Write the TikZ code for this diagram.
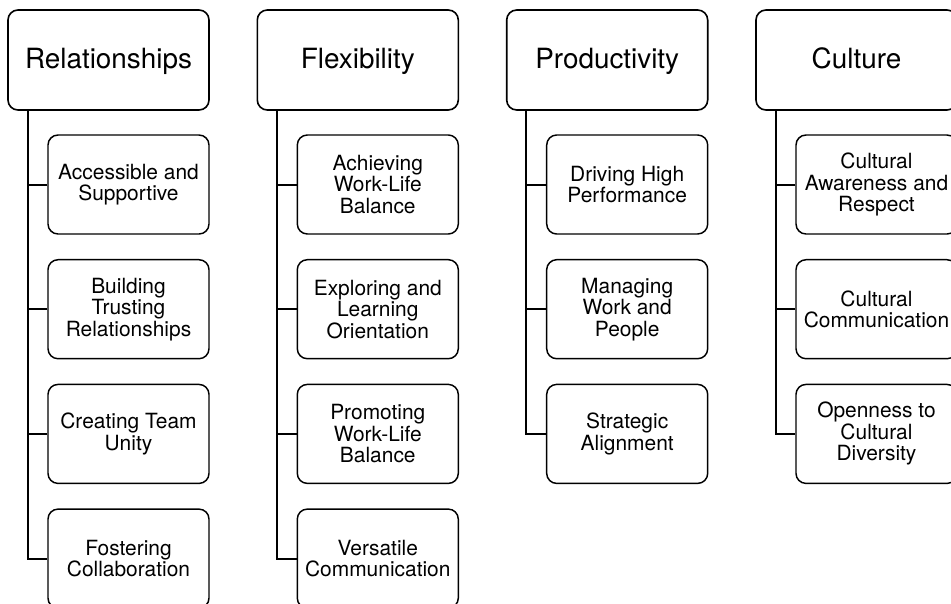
\documentclass[tikz,border=0pt]{standalone}
\usepackage{fontspec}
\setmainfont{TeX Gyre Heros}
\usetikzlibrary{calc}
\begin{document}
\begin{tikzpicture}[x=0.75pt,y=-0.75pt,
  headbox/.style={draw=black, line width=1.2pt, rounded corners=7.5pt,
    minimum width=150.75pt, minimum height=75pt, inner sep=0pt,
    text height=15pt, text depth=2.8pt,
    align=center, font=\fontsize{20.9pt}{22pt}\selectfont},
  subbox/.style={draw=black, line width=1.1pt, rounded corners=7.5pt,
    minimum width=120.75pt, minimum height=74.25pt, inner sep=0pt,
    align=center, font=\fontsize{15.7pt}{16.1pt}\selectfont},
  trunk/.style={draw=black, line width=1.5pt}]
\useasboundingbox (0,0) rectangle (951,604);
\clip (0,0) rectangle (951,604);
\fill[white] (0,0) rectangle (951,604);

% column headers
\node[headbox] (h1) at (108.5,60) {Relationships};
\node[headbox] (h2) at (357.8,60) {Flexibility};
\node[headbox] (h3) at (607.2,60) {Productivity};
\node[headbox] (h4) at (856.5,60) {Culture};

% Relationships
\node[subbox] (r1) at (128.5,184.5) {Accessible and\\Supportive};
\node[subbox] (r2) at (128.5,309.2) {Building\\Trusting\\Relationships};
\node[subbox] (r3) at (128.5,433.9) {Creating Team\\Unity};
\node[subbox] (r4) at (128.5,558.6) {Fostering\\Collaboration};

% Flexibility
\node[subbox] (f1) at (377.8,184.5) {Achieving\\Work-Life\\Balance};
\node[subbox] (f2) at (377.8,309.2) {Exploring and\\Learning\\Orientation};
\node[subbox] (f3) at (377.8,433.9) {Promoting\\Work-Life\\Balance};
\node[subbox] (f4) at (377.8,558.6) {Versatile\\Communication};

% Productivity
\node[subbox] (p1) at (627.2,184.5) {Driving High\\Performance};
\node[subbox] (p2) at (627.2,309.2) {Managing\\Work and\\People};
\node[subbox] (p3) at (627.2,433.9) {Strategic\\Alignment};

% Culture
\node[subbox] (c1) at (876.5,184.5) {Cultural\\Awareness and\\Respect};
\node[subbox] (c2) at (876.5,309.2) {Cultural\\Communication};
\node[subbox] (c3) at (876.5,433.9) {Openness to\\Cultural\\Diversity};

% trunk start points under each header
\coordinate (t1) at ($(h1.south west)+(20.5,0)$);
\coordinate (t2) at ($(h2.south west)+(20.5,0)$);
\coordinate (t3) at ($(h3.south west)+(20.5,0)$);
\coordinate (t4) at ($(h4.south west)+(20.5,0)$);

% trunks with branches
\draw[trunk] (t1) |- (r4.west);
\foreach \c in {r1,r2,r3} \draw[trunk] (\c.west) -- (\c.west -| t1);
\draw[trunk] (t2) |- (f4.west);
\foreach \c in {f1,f2,f3} \draw[trunk] (\c.west) -- (\c.west -| t2);
\draw[trunk] (t3) |- (p3.west);
\foreach \c in {p1,p2} \draw[trunk] (\c.west) -- (\c.west -| t3);
\draw[trunk] (t4) |- (c3.west);
\foreach \c in {c1,c2} \draw[trunk] (\c.west) -- (\c.west -| t4);
\end{tikzpicture}
\end{document}
